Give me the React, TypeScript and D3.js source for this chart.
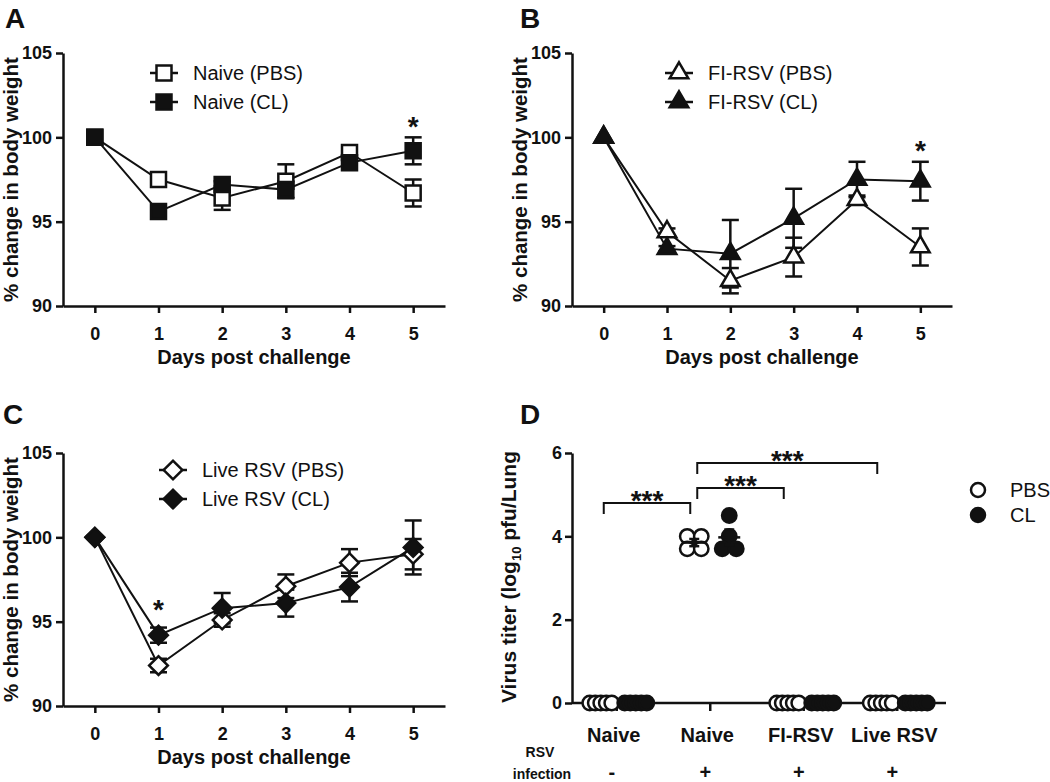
import * as d3 from "d3";
import { useEffect, useRef } from "react";

const FONT = "Liberation Sans, Arial, Helvetica, sans-serif";

const days = [0, 1, 2, 3, 4, 5];
const weightTicks = [90, 95, 100, 105];

const naivePBS = [100, 97.5, 96.4, 97.4, 99.1, 96.7];
const naivePBSErr = [0, 0.15, 0.7, 1.0, 0.15, 0.8];
const naiveCL = [100, 95.6, 97.2, 96.9, 98.5, 99.2];
const naiveCLErr = [0, 0.2, 0.2, 0.5, 0.2, 0.8];

const fiPBS = [100, 94.4, 91.5, 92.9, 96.3, 93.5];
const fiPBSErr = [0, 0.2, 0.75, 1.15, 0.25, 1.1];
const fiCL = [100, 93.4, 93.1, 95.2, 97.5, 97.4];
const fiCLErr = [0, 0.15, 2.0, 1.75, 1.05, 1.15];

const livePBS = [100, 92.4, 95.1, 97.1, 98.5, 99.0];
const livePBSErr = [0, 0.4, 0.4, 0.7, 0.8, 0.9];
const liveCL = [100, 94.2, 95.8, 96.1, 97.05, 99.4];
const liveCLErr = [0, 0.45, 0.9, 0.8, 0.85, 1.6];

const titerGroups = ["Naive", "Naive", "FI-RSV", "Live RSV"];
const rsvInfection = ["-", "+", "+", "+"];
const titerTicks = [0, 2, 4, 6];
const pbsTiter = [
  [0, 0, 0, 0, 0],
  [4.0, 4.0, 3.7, 3.7],
  [0, 0, 0, 0, 0],
  [0, 0, 0, 0, 0],
];
const clTiter = [
  [0, 0, 0, 0, 0],
  [4.0, 4.5, 3.7, 3.7],
  [0, 0, 0, 0, 0],
  [0, 0, 0, 0, 0],
];
// pairs of groups compared, and bracket height in titer units
const comparisons = [
  { from: 0, to: 1, level: 4.8 },
  { from: 1, to: 2, level: 5.16 },
  { from: 1, to: 3, level: 5.76 },
];

type Shape = "square" | "triangle" | "diamond";

type WeightPanel = {
  letter: string;
  letterX: number;
  letterY: number;
  left: number;
  right: number;
  top: number;
  bottom: number;
  shape: Shape;
  pbs: number[];
  pbsErr: number[];
  cl: number[];
  clErr: number[];
  pbsLabel: string;
  clLabel: string;
  legendX: number;
  legendY: number;
  stars: { day: number; value: number }[];
};

function markerPath(shape: Shape) {
  if (shape === "square") return d3.symbol(d3.symbolSquare, 225)() as string;
  if (shape === "triangle") return d3.symbol(d3.symbolTriangle, 150)() as string;
  return d3.symbol(d3.symbolSquare, 175)() as string;
}

function addMarker(g: any, shape: Shape, filled: boolean, x: number, y: number) {
  g.append("path")
    .attr("d", markerPath(shape))
    .attr("transform", `translate(${x},${y})${shape === "diamond" ? " rotate(45)" : ""}`)
    .attr("fill", filled ? "#111" : "#fff")
    .attr("stroke", "#111")
    .attr("stroke-width", 2.5)
    .attr("stroke-linejoin", "miter");
}

function styleAxis(g: any, size: number) {
  g.select(".domain").attr("stroke", "#111").attr("stroke-width", 2.5);
  g.selectAll(".tick line").attr("stroke", "#111").attr("stroke-width", 2.5);
  g.selectAll(".tick text")
    .attr("fill", "#111")
    .attr("font-family", FONT)
    .attr("font-weight", "bold")
    .attr("font-size", size);
}

function drawWeightPanel(svg: any, p: WeightPanel) {
  const x = d3.scaleLinear().domain([-0.5, 5.5]).range([p.left, p.right]);
  const y = d3.scaleLinear().domain([90, 105]).range([p.bottom, p.top]);
  const g = svg.append("g");

  g.append("text")
    .attr("x", p.letterX)
    .attr("y", p.letterY)
    .attr("font-family", FONT)
    .attr("font-weight", "bold")
    .attr("font-size", 28)
    .attr("fill", "#111")
    .text(p.letter);

  const yAxis = g
    .append("g")
    .attr("transform", `translate(${p.left},0)`)
    .call(d3.axisLeft(y).tickValues(weightTicks).tickFormat(d3.format("d")).tickSize(7).tickSizeOuter(0).tickPadding(4));
  styleAxis(yAxis, 18);

  const xAxis = g
    .append("g")
    .attr("transform", `translate(0,${p.bottom})`)
    .call(d3.axisBottom(x).tickValues(days).tickFormat(d3.format("d")).tickSize(7).tickSizeOuter(0).tickPadding(14));
  styleAxis(xAxis, 18);

  g.append("text")
    .attr("x", (p.left + p.right) / 2)
    .attr("y", p.bottom + 58)
    .attr("text-anchor", "middle")
    .attr("font-family", FONT)
    .attr("font-weight", "bold")
    .attr("font-size", 20)
    .attr("fill", "#111")
    .text("Days post challenge");

  g.append("text")
    .attr("transform", `translate(${p.left - 45},${(p.top + p.bottom) / 2}) rotate(-90)`)
    .attr("text-anchor", "middle")
    .attr("font-family", FONT)
    .attr("font-weight", "bold")
    .attr("font-size", 20.5)
    .attr("fill", "#111")
    .text("% change in body weight");

  const series = [
    { values: p.pbs, errs: p.pbsErr, filled: false },
    { values: p.cl, errs: p.clErr, filled: true },
  ];

  // error bars
  series.forEach((s) => {
    s.values.forEach((v, i) => {
      const e = s.errs[i];
      if (!e) return;
      const cx = x(days[i]);
      g.append("line")
        .attr("x1", cx).attr("x2", cx)
        .attr("y1", y(v - e)).attr("y2", y(v + e))
        .attr("stroke", "#111").attr("stroke-width", 2.5);
      [v - e, v + e].forEach((end) => {
        g.append("line")
          .attr("x1", cx - 8.5).attr("x2", cx + 8.5)
          .attr("y1", y(end)).attr("y2", y(end))
          .attr("stroke", "#111").attr("stroke-width", 2.5);
      });
    });
  });

  const line = d3
    .line<number>()
    .x((_, i) => x(days[i]))
    .y((d) => y(d));

  series.forEach((s) => {
    g.append("path")
      .datum(s.values)
      .attr("fill", "none")
      .attr("stroke", "#111")
      .attr("stroke-width", 2)
      .attr("d", line);
  });

  series.forEach((s) => {
    s.values.forEach((v, i) => addMarker(g, p.shape, s.filled, x(days[i]), y(v)));
  });

  p.stars.forEach((s) => {
    g.append("text")
      .attr("x", x(s.day))
      .attr("y", y(s.value) + 16)
      .attr("text-anchor", "middle")
      .attr("font-family", FONT)
      .attr("font-weight", "bold")
      .attr("font-size", 28)
      .attr("fill", "#111")
      .text("*");
  });

  // legend
  [
    { label: p.pbsLabel, filled: false },
    { label: p.clLabel, filled: true },
  ].forEach((item, k) => {
    const ly = p.legendY + k * 29;
    g.append("line")
      .attr("x1", p.legendX - 14).attr("x2", p.legendX + 14)
      .attr("y1", ly).attr("y2", ly)
      .attr("stroke", "#111").attr("stroke-width", 2.5);
    addMarker(g, p.shape, item.filled, p.legendX, ly);
    g.append("text")
      .attr("x", p.legendX + 29)
      .attr("y", ly + 7)
      .attr("font-family", FONT)
      .attr("font-size", 20)
      .attr("fill", "#111")
      .text(item.label);
  });
}

function drawTiterPanel(svg: any) {
  const left = 572;
  const right = 946;
  const top = 453;
  const bottom = 703;
  const r = 7.2;
  const y = d3.scaleLinear().domain([0, 6]).range([bottom, top]);
  const xg = d3.scalePoint<number>().domain(d3.range(titerGroups.length)).range([left - 2, right - 2]).padding(0.5);
  const xs = d3.scalePoint<string>().domain(["PBS", "CL"]).range([-16, 19]);
  const g = svg.append("g");

  g.append("text")
    .attr("x", 520).attr("y", 424)
    .attr("font-family", FONT).attr("font-weight", "bold").attr("font-size", 28)
    .attr("fill", "#111").text("D");

  const yAxis = g
    .append("g")
    .attr("transform", `translate(${left},0)`)
    .call(d3.axisLeft(y).tickValues(titerTicks).tickFormat(d3.format("d")).tickSize(7).tickSizeOuter(0).tickPadding(3));
  styleAxis(yAxis, 18);

  // x axis
  g.append("line")
    .attr("x1", left).attr("x2", right)
    .attr("y1", bottom).attr("y2", bottom)
    .attr("stroke", "#111").attr("stroke-width", 2.5);
  titerGroups.forEach((name, i) => {
    const cx = xg(i) as number;
    g.append("line")
      .attr("x1", cx).attr("x2", cx)
      .attr("y1", bottom).attr("y2", bottom + 8)
      .attr("stroke", "#111").attr("stroke-width", 2.5);
    g.append("text")
      .attr("x", cx - 3).attr("y", bottom + 39)
      .attr("text-anchor", "middle")
      .attr("font-family", FONT).attr("font-weight", "bold").attr("font-size", 20)
      .attr("fill", "#111").text(name);
    g.append("text")
      .attr("x", cx - 5).attr("y", bottom + 76)
      .attr("text-anchor", "middle")
      .attr("font-family", FONT).attr("font-weight", "bold").attr("font-size", 20)
      .attr("fill", "#111").text(rsvInfection[i]);
  });

  g.append("text")
    .attr("x", 540).attr("y", bottom + 54)
    .attr("text-anchor", "middle")
    .attr("font-family", FONT).attr("font-weight", "bold").attr("font-size", 14)
    .attr("fill", "#111").text("RSV");
  g.append("text")
    .attr("x", 542).attr("y", bottom + 76)
    .attr("text-anchor", "middle")
    .attr("font-family", FONT).attr("font-weight", "bold").attr("font-size", 14)
    .attr("fill", "#111").text("infection");

  const ylab = g
    .append("text")
    .attr("transform", `translate(${left - 56},${(top + bottom) / 2 - 1}) rotate(-90)`)
    .attr("text-anchor", "middle")
    .attr("font-family", FONT).attr("font-weight", "bold").attr("font-size", 21)
    .attr("fill", "#111");
  ylab.append("tspan").text("Virus titer (log");
  ylab.append("tspan").attr("font-size", 13).attr("dy", 5).text("10");
  ylab.append("tspan").attr("dy", -5).text(" pfu/Lung");

  // significance brackets
  comparisons.forEach((c) => {
    const x1 = (xg(c.from) as number) - 13;
    const x2 = (xg(c.to) as number) - 20;
    const by = y(c.level);
    g.append("path")
      .attr("d", `M${x1},${by + 11}V${by}H${x2}V${by + 11}`)
      .attr("fill", "none").attr("stroke", "#111").attr("stroke-width", 2);
    g.append("text")
      .attr("x", (x1 + x2) / 2).attr("y", by + 7)
      .attr("text-anchor", "middle")
      .attr("font-family", FONT).attr("font-weight", "bold").attr("font-size", 28)
      .attr("fill", "#111").text("***");
  });

  const subgroups = [
    { key: "PBS", data: pbsTiter, filled: false },
    { key: "CL", data: clTiter, filled: true },
  ];

  subgroups.forEach((sg) => {
    sg.data.forEach((vals, gi) => {
      const cx = (xg(gi) as number) + (xs(sg.key) as number);
      const rows = d3.group(vals, (v) => v);
      rows.forEach((row, v) => {
        const n = row.length;
        const step = n > 1 ? Math.min(14, 22 / (n - 1)) : 0;
        row.forEach((_, k) => {
          g.append("circle")
            .attr("cx", cx + (k - (n - 1) / 2) * step)
            .attr("cy", y(v))
            .attr("r", r)
            .attr("fill", sg.filled ? "#111" : "#fff")
            .attr("stroke", "#111")
            .attr("stroke-width", 2.5);
        });
      });
    });
  });

  // mean +/- SEM
  subgroups.forEach((sg) => {
    sg.data.forEach((vals, gi) => {
      const m = d3.mean(vals) as number;
      if (!m) return;
      const sem = (d3.deviation(vals) as number) / Math.sqrt(vals.length);
      const cx = (xg(gi) as number) + (xs(sg.key) as number);
      const hw = sg.filled ? 11 : 12;
      g.append("line")
        .attr("x1", cx - hw).attr("x2", cx + hw)
        .attr("y1", y(m)).attr("y2", y(m))
        .attr("stroke", "#111").attr("stroke-width", 2.5);
      g.append("line")
        .attr("x1", cx).attr("x2", cx)
        .attr("y1", y(m - sem)).attr("y2", y(m + sem))
        .attr("stroke", "#111").attr("stroke-width", 2.5);
      [m - sem, m + sem].forEach((e) => {
        g.append("line")
          .attr("x1", cx - 5).attr("x2", cx + 5)
          .attr("y1", y(e)).attr("y2", y(e))
          .attr("stroke", "#111").attr("stroke-width", 2.5);
      });
    });
  });

  // legend
  [
    { label: "PBS", filled: false },
    { label: "CL", filled: true },
  ].forEach((item, k) => {
    const ly = 490 + k * 25;
    g.append("circle")
      .attr("cx", 978).attr("cy", ly).attr("r", 7)
      .attr("fill", item.filled ? "#111" : "#fff")
      .attr("stroke", "#111").attr("stroke-width", 2.5);
    g.append("text")
      .attr("x", 1010).attr("y", ly + 7)
      .attr("font-family", FONT).attr("font-size", 20)
      .attr("fill", "#111").text(item.label);
  });
}

export default function App() {
  const svgRef = useRef<SVGSVGElement | null>(null);

  useEffect(() => {
    const svg = d3.select(svgRef.current);
    svg.selectAll("*").remove();

    drawWeightPanel(svg, {
      letter: "A", letterX: 5, letterY: 28,
      left: 63, right: 445, top: 53, bottom: 306,
      shape: "square",
      pbs: naivePBS, pbsErr: naivePBSErr, cl: naiveCL, clErr: naiveCLErr,
      pbsLabel: "Naive (PBS)", clLabel: "Naive (CL)",
      legendX: 164, legendY: 73,
      stars: [{ day: 5, value: 101.0 }],
    });

    drawWeightPanel(svg, {
      letter: "B", letterX: 520, letterY: 28,
      left: 572, right: 952, top: 53, bottom: 306,
      shape: "triangle",
      pbs: fiPBS, pbsErr: fiPBSErr, cl: fiCL, clErr: fiCLErr,
      pbsLabel: "FI-RSV (PBS)", clLabel: "FI-RSV (CL)",
      legendX: 679, legendY: 73,
      stars: [{ day: 5, value: 99.6 }],
    });

    drawWeightPanel(svg, {
      letter: "C", letterX: 3, letterY: 424,
      left: 63, right: 445, top: 453, bottom: 706,
      shape: "diamond",
      pbs: livePBS, pbsErr: livePBSErr, cl: liveCL, clErr: liveCLErr,
      pbsLabel: "Live RSV (PBS)", clLabel: "Live RSV (CL)",
      legendX: 173, legendY: 470,
      stars: [{ day: 1, value: 96.1 }],
    });

    drawTiterPanel(svg);
  }, []);

  return (
    <svg
      ref={svgRef}
      width={1050}
      height={782}
      style={{ position: "absolute", left: 0, top: 0, background: "#fff" }}
    ></svg>
  );
}
